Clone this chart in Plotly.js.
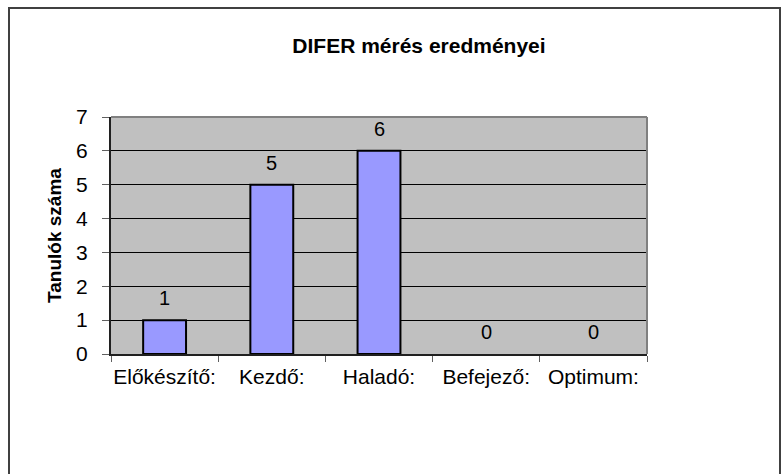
<!DOCTYPE html>
<html>
<head>
<meta charset="utf-8">
<script src="https://cdn.plot.ly/plotly-3.0.1.min.js"></script>
<style>
html,body{margin:0;padding:0;background:#fff;}
#chart{width:782px;height:474px;}
</style>
</head>
<body>
<div id="chart"></div>
<script>
const categories = ["Előkészítő:", "Kezdő:", "Haladó:", "Befejező:", "Optimum:"];
const values = [1, 5, 6, 0, 0];
const yTicks = [0, 1, 2, 3, 4, 5, 6, 7];
const chartTitle = "DIFER mérés eredményei";
const yTitle = "Tanulók száma";

const FONT = "Arial, 'Liberation Sans', sans-serif";

const trace = {
  type: "bar",
  x: categories,
  y: values,
  width: 0.4,
  marker: {color: "#9999FF", line: {color: "#000000", width: values.map(v => v === 0 ? 0 : 2)}},
  hoverinfo: "skip"
};

const labelAnnotations = categories.map((c, i) => ({
  x: c, y: values[i], xref: "x", yref: "y",
  text: String(values[i]), showarrow: false,
  yanchor: "middle", yshift: 22,
  font: {family: FONT, size: 20, color: "#000"}
}));

const layout = {
  width: 782, height: 474,
  margin: {l: 111, r: 135, t: 117, b: 120, pad: 0},
  paper_bgcolor: "#ffffff",
  plot_bgcolor: "#C0C0C0",
  showlegend: false,
  font: {family: FONT, color: "#000"},
  title: {
    text: "<b>" + chartTitle + "</b>",
    font: {family: FONT, size: 21, color: "#000"},
    xref: "paper", x: 0.5746, xanchor: "center",
    yref: "container", y: 1 - 45.5/474, yanchor: "middle"
  },
  xaxis: {
    type: "category",
    range: [-0.5, 4.5],
    tickson: "boundaries",
    tickangle: 0,
    ticks: "outside", ticklen: 6, tickwidth: 1, tickcolor: "#606060",
    showline: true, linecolor: "#202020", linewidth: 2,
    showgrid: false, zeroline: false,
    tickfont: {family: FONT, size: 21, color: "#000"},
    ticklabelstandoff: 3,
    fixedrange: true
  },
  yaxis: {
    range: [0, 7],
    tickvals: yTicks,
    ticktext: yTicks.map(String),
    ticks: "outside", ticklen: 7, tickwidth: 1, tickcolor: "#606060",
    showline: true, linecolor: "#202020", linewidth: 2,
    showgrid: true, gridcolor: "#000000", gridwidth: 1,
    zeroline: false,
    tickfont: {family: FONT, size: 21, color: "#000"},
    ticklabelstandoff: 10,
    title: {text: "<b>" + yTitle + "</b>", font: {family: FONT, size: 19, color: "#000"}, standoff: 9},
    fixedrange: true
  },
  bargap: 0.6,
  annotations: labelAnnotations,
  shapes: [
    {type: "line", xref: "paper", yref: "paper", x0: 0, x1: 1, y0: 1, y1: 1,
     line: {color: "#808080", width: 2}, layer: "above"},
    {type: "line", xref: "paper", yref: "paper", x0: 1, x1: 1, y0: 0, y1: 1,
     line: {color: "#808080", width: 2}, layer: "above"},
    {type: "rect", xref: "paper", yref: "paper",
     x0: (9-111)/536, x1: (780-111)/536, y0: (354-490)/237, y1: (354-8)/237,
     line: {color: "#404040", width: 2}, fillcolor: "rgba(0,0,0,0)", layer: "below"}
  ]
};

Plotly.newPlot("chart", [trace], layout, {displayModeBar: false, staticPlot: true});
</script>
</body>
</html>
